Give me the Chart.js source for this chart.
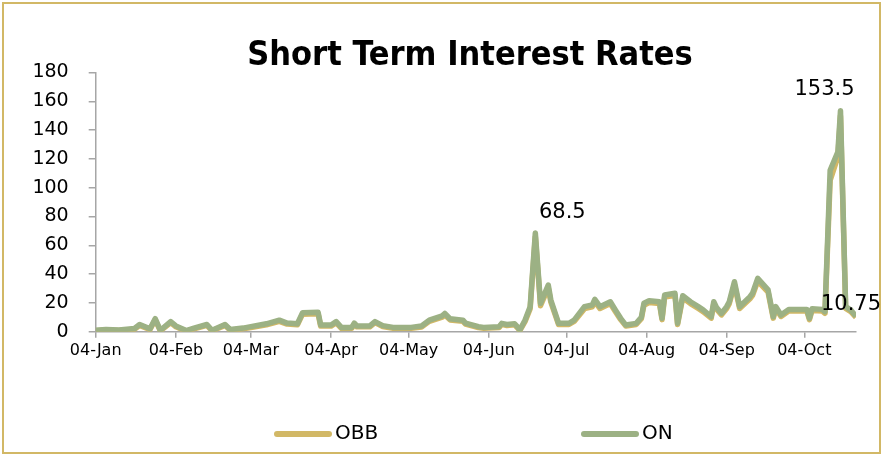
<!DOCTYPE html>
<html>
<head>
<meta charset="utf-8">
<script src="https://cdn.jsdelivr.net/npm/chart.js@4.4.1/dist/chart.umd.min.js"></script>
<style>
    html, body { margin: 0; padding: 0; background: #fff; }
</style>
</head>
<body>
<canvas id="graphique" width="882" height="455"></canvas>
<script>
// dates des relevés (2016)
const dates = [
    '2016-01-04', '2016-01-08', '2016-01-13', '2016-01-19', '2016-01-21', '2016-01-25', '2016-01-27', '2016-01-29',
    '2016-02-02', '2016-02-04', '2016-02-08', '2016-02-11', '2016-02-16', '2016-02-18', '2016-02-23', '2016-02-25',
    '2016-03-01', '2016-03-04', '2016-03-10', '2016-03-15', '2016-03-18', '2016-03-22', '2016-03-24', '2016-03-30', '2016-03-31',
    '2016-04-04', '2016-04-06', '2016-04-08', '2016-04-12', '2016-04-13', '2016-04-14', '2016-04-19', '2016-04-21', '2016-04-24', '2016-04-28',
    '2016-05-05', '2016-05-09', '2016-05-12', '2016-05-17', '2016-05-18', '2016-05-20', '2016-05-25', '2016-05-26', '2016-05-31',
    '2016-06-02', '2016-06-08', '2016-06-09', '2016-06-11', '2016-06-14', '2016-06-15', '2016-06-16', '2016-06-18', '2016-06-20',
    '2016-06-22', '2016-06-24', '2016-06-27', '2016-06-28',
    '2016-07-01', '2016-07-05', '2016-07-07', '2016-07-11', '2016-07-14', '2016-07-15', '2016-07-17', '2016-07-21', '2016-07-23',
    '2016-07-25', '2016-07-27', '2016-07-31',
    '2016-08-02', '2016-08-03', '2016-08-05', '2016-08-09', '2016-08-10', '2016-08-11', '2016-08-15', '2016-08-16', '2016-08-18',
    '2016-08-21', '2016-08-24', '2016-08-26', '2016-08-29', '2016-08-30', '2016-08-31',
    '2016-09-02', '2016-09-04', '2016-09-05', '2016-09-07', '2016-09-09', '2016-09-13', '2016-09-14', '2016-09-16', '2016-09-20',
    '2016-09-22', '2016-09-23', '2016-09-25', '2016-09-28',
    '2016-10-05', '2016-10-06', '2016-10-07', '2016-10-11', '2016-10-12', '2016-10-14', '2016-10-17', '2016-10-18', '2016-10-20',
    '2016-10-22', '2016-10-24'
];

const obb = [
    0.6, 1.1, 0.8, 1.7, 4.4, 1.5, 8.3, 0.6,
    6.3, 3.4, 0.4, 2.0, 4.4, 0.6, 4.4, 1.0,
    2.0, 2.9, 4.8, 7.2, 5.3, 4.8, 12.2, 12.4, 3.9,
    3.9, 6.2, 2.4, 2.4, 5.3, 3.4, 3.4, 6.3, 3.6, 2.4,
    2.4, 3.3, 7.2, 10.1, 11.8, 8.2, 7.2, 5.3, 2.9,
    2.4, 2.9, 5.1, 4.3, 4.8, 2.9, 0.8, 7.0, 16.0,
    66.0, 18.0, 30.5, 20.5,
    5.0, 5.0, 7.1, 16.0, 17.2, 21.0, 16.1, 19.5, 13.8,
    8.4, 3.9, 5.0,
    9.0, 18.4, 20.2, 19.5, 8.4, 24.0, 25.3, 5.0, 23.6,
    19.5, 16.1, 13.8, 9.4, 19.4, 15.8,
    11.7, 16.1, 19.5, 32.8, 16.1, 22.9, 25.2, 35.2, 27.5,
    9.4, 16.1, 10.6, 14.3,
    14.3, 8.4, 14.8, 14.3, 12.8, 105.0, 121.5, 150.0, 16.2,
    13.9, 10.0
];

const on = [
    1.0, 1.6, 1.2, 2.2, 5.0, 2.0, 9.0, 1.0,
    7.0, 4.0, 0.8, 2.5, 5.0, 1.0, 5.0, 1.5,
    2.5, 3.5, 5.5, 8.0, 6.0, 5.5, 13.2, 13.5, 4.6,
    4.6, 7.0, 3.0, 3.0, 6.0, 4.0, 4.0, 7.0, 4.2, 3.0,
    3.0, 4.0, 8.0, 11.0, 12.7, 9.0, 8.0, 6.0, 3.5,
    3.0, 3.5, 5.8, 5.0, 5.5, 3.5, 1.2, 8.0, 17.4,
    68.5, 19.7, 32.4, 22.0,
    5.8, 5.8, 8.0, 17.4, 18.5, 22.5, 17.4, 20.8, 15.0,
    9.3, 4.6, 5.8,
    10.0, 19.7, 21.5, 20.8, 9.3, 25.5, 26.7, 5.8, 25.0,
    20.8, 17.4, 15.0, 10.4, 20.8, 17.0,
    12.7, 17.4, 20.8, 34.7, 17.4, 24.3, 26.7, 37.0, 29.0,
    10.4, 17.4, 11.6, 15.5,
    15.5, 9.3, 16.0, 15.5, 13.9, 112.0, 125.0, 153.5, 17.4,
    15.0, 10.75
];

// graduations de l'axe des x
const tickDates = ['2016-01-04', '2016-02-04', '2016-03-04', '2016-04-04', '2016-05-04', '2016-06-04', '2016-07-04', '2016-08-04', '2016-09-04', '2016-10-04'];
const tickLabels = ['04-Jan', '04-Feb', '04-Mar', '04-Apr', '04-May', '04-Jun', '04-Jul', '04-Aug', '04-Sep', '04-Oct'];
const yTicks = [0, 20, 40, 60, 80, 100, 120, 140, 160, 180];

// points avec étiquette de valeur (série ON)
const datesEtiquettes = ['2016-06-22', '2016-10-18', '2016-10-24'];

const titre = 'Short Term Interest Rates';
const or = '#D2B866';
const vert = '#9CB184';
const gris = '#A6A6A6';

function jour(d) {
    return (Date.parse(d) - Date.parse(dates[0])) / 86400000;
}

function points(serie) {
    return dates.map((d, i) => ({x: jour(d), y: serie[i]}));
}

const decor = {
    id: 'decor',
    afterDraw(chart) {
        const ctx = chart.ctx;
        const sx = chart.scales.x;
        const sy = chart.scales.y;
        ctx.save();

        // cadre
        ctx.strokeStyle = or;
        ctx.lineWidth = 2;
        ctx.strokeRect(3, 3, 877, 450);

        // titre
        ctx.fillStyle = '#000';
        ctx.font = 'bold 34px "Liberation Sans Narrow", "DejaVu Sans Condensed", sans-serif';
        ctx.textAlign = 'center';
        ctx.textBaseline = 'middle';
        ctx.fillText(titre, 470, 56);

        // etiquettes de valeurs
        ctx.font = '21px "DejaVu Sans", sans-serif';
        const decalages = [[27, -21], [-16, -21], [-5, -12]];
        datesEtiquettes.forEach(function (d, k) {
            const i = dates.indexOf(d);
            const px = sx.getPixelForValue(jour(d));
            const py = sy.getPixelForValue(on[i]);
            ctx.fillText(String(on[i]), px + decalages[k][0], py + decalages[k][1]);
        });

        // légende
        const items = [
            {texte: 'OBB', couleur: or, x: 277},
            {texte: 'ON', couleur: vert, x: 584}
        ];
        ctx.font = '20px "DejaVu Sans", sans-serif';
        ctx.textAlign = 'left';
        ctx.lineCap = 'round';
        ctx.lineWidth = 6;
        items.forEach(function (it) {
            ctx.strokeStyle = it.couleur;
            ctx.beginPath();
            ctx.moveTo(it.x, 434);
            ctx.lineTo(it.x + 52, 434);
            ctx.stroke();
            ctx.fillText(it.texte, it.x + 58, 434);
        });

        ctx.restore();
    }
};

const graph = document.getElementById('graphique');

new Chart(graph, {
    type: 'line',
    data: {
        datasets: [{
            label: 'ON',
            data: points(on),
            borderColor: vert,
            borderWidth: 5.5,
            pointRadius: 0,
            tension: 0,
            borderJoinStyle: 'round',
            order: 0
        }, {
            label: 'OBB',
            data: points(obb),
            borderColor: or,
            borderWidth: 5.5,
            pointRadius: 0,
            tension: 0,
            borderJoinStyle: 'round',
            order: 1
        }]
    },
    options: {
        responsive: false,
        animation: false,
        devicePixelRatio: 1,
        layout: {
            padding: {left: 0, right: 26, top: 72.5, bottom: 83.3}
        },
        plugins: {
            legend: {display: false},
            title: {display: false},
            tooltip: {enabled: false}
        },
        scales: {
            x: {
                type: 'linear',
                min: 0,
                max: jour(dates[dates.length - 1]),
                afterBuildTicks: function (s) {
                    s.ticks = tickDates.map(d => ({value: jour(d)}));
                },
                afterFit: function (s) {
                    s.height = 40;
                },
                ticks: {
                    autoSkip: false,
                    maxRotation: 0,
                    padding: 4,
                    color: '#000',
                    font: {family: 'DejaVu Sans', size: 16},
                    callback: (v, i) => tickLabels[i]
                },
                grid: {display: true, drawOnChartArea: false, tickLength: 6, color: gris, lineWidth: 1.5},
                border: {display: true, color: gris, width: 1.5}
            },
            y: {
                min: 0,
                max: 180,
                afterBuildTicks: function (s) {
                    s.ticks = yTicks.map(v => ({value: v}));
                },
                afterFit: function (s) {
                    s.width = 95.7;
                },
                ticks: {
                    padding: 20,
                    color: '#000',
                    font: {family: 'DejaVu Sans', size: 19}
                },
                grid: {display: true, drawOnChartArea: false, tickLength: 7, color: gris, lineWidth: 1.5},
                border: {display: true, color: gris, width: 1.5}
            }
        }
    },
    plugins: [decor]
});
</script>
</body>
</html>
